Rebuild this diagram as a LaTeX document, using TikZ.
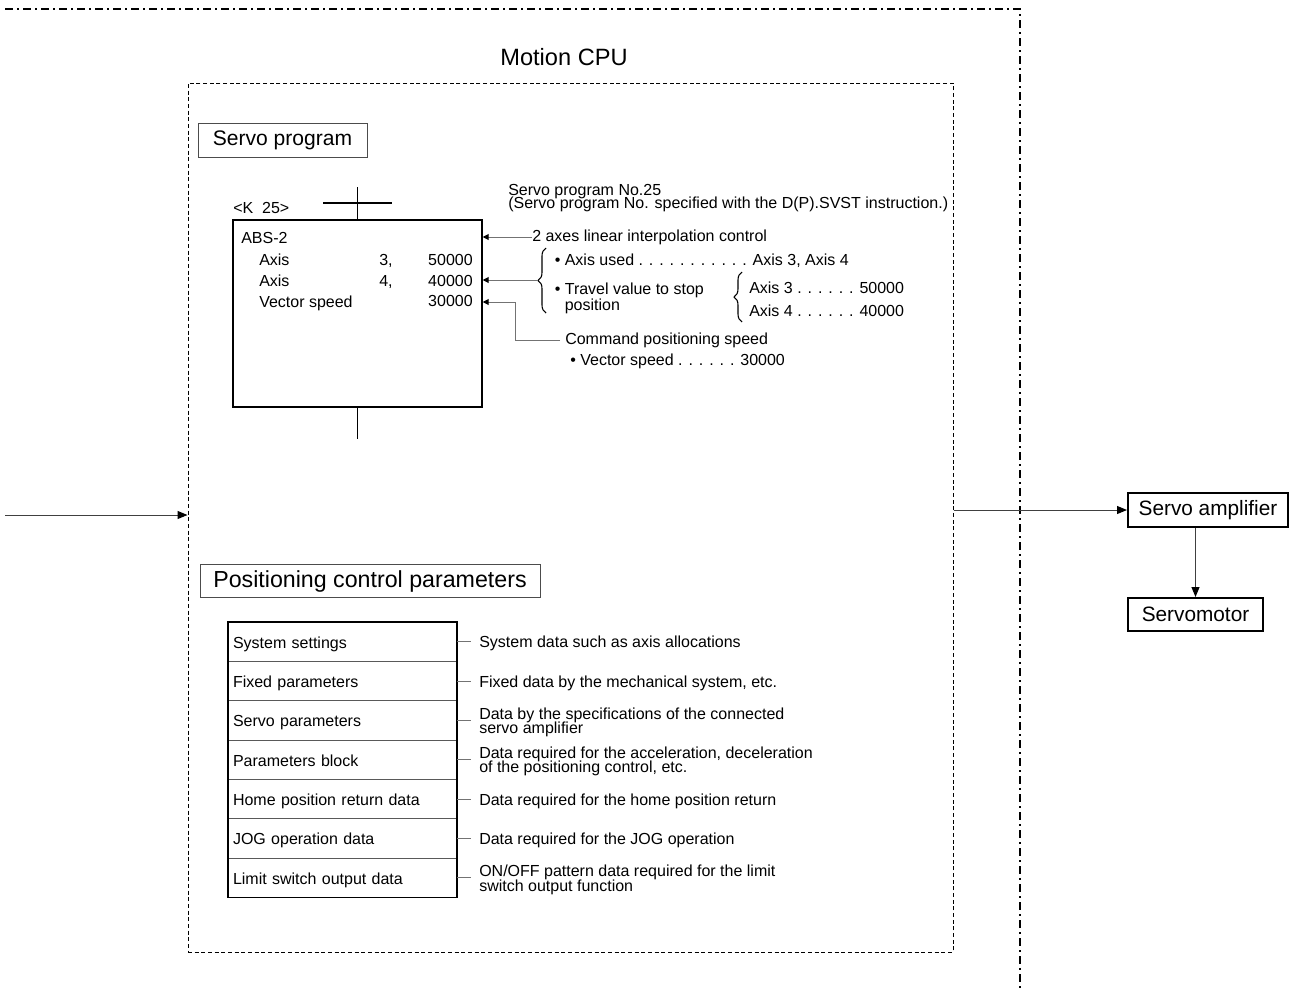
\documentclass[tikz,border=0pt]{standalone}
\usepackage{fontspec}
\setmainfont{Liberation Sans}
\usetikzlibrary{arrows.meta,decorations.pathreplacing}
\newcommand\tightlines{\lineskiplimit=-20pt\relax}
\newcommand\rowstrut{\rule[-2.5pt]{0pt}{14.5pt}}
\begin{document}
\begin{tikzpicture}[x=0.75pt,y=-0.75pt,
  txt/.style={font={\fontsize{12}{10.5}\selectfont\tightlines}, inner sep=0pt, align=left},
  one/.style={txt, text height=8.6pt, text depth=2.5pt},
  gline/.style={draw=black!55, line width=0.75pt},
  garr/.style={gline, -{Triangle[length=4.5pt,width=4.5pt,color=black]}},
  barr/.style={draw=black!75, line width=0.75pt, -{Triangle[length=7.5pt,width=6pt,color=black]}},
  rowbox/.style={draw=black!65, line width=0.75pt, minimum width=171.75pt, minimum height=29.5pt,
    text width=164.25pt, inner xsep=3.75pt, inner ysep=0pt,
    outer sep=0pt, align=left, font=\fontsize{12}{12}\selectfont, anchor=north west,
    execute at begin node=\rowstrut},
  desc/.style={txt, anchor=west, inner xsep=6pt, inner ysep=0pt},
  sbox/.style={draw=black, line width=1.5pt, inner sep=0pt, font=\fontsize{15.6}{18}\selectfont},
  brc/.style={line width=0.8pt, decorate, decoration={brace, amplitude=6pt}},
]
\fill[white] (0,0) rectangle (1293,989);
\useasboundingbox (0,0) rectangle (1293,989);

% outer dash-dot boundary
\draw[line width=1.7pt, dash pattern=on 6pt off 3pt on 1.5pt off 3pt] (5,9) -- (1020,9) -- (1020,989);

% Motion CPU
\node[font=\fontsize{17.7}{20}\selectfont, inner sep=0pt] (mcpu) at (564,57) {Motion CPU};
\node[draw, dash pattern=on 3pt off 2pt, line width=0.75pt, minimum width=573.75pt,
  minimum height=651.75pt, inner sep=0pt] (cpu) at (570.5,517.5) {};

% Servo program title
\node[draw=black!70, line width=0.75pt, minimum width=126.75pt, minimum height=25.5pt,
  inner sep=0pt, font=\fontsize{15.8}{18}\selectfont] (sptitle) at (282.5,140) {Servo program};

% servo program block
\node[draw, line width=1.1pt, minimum width=186.75pt, minimum height=140.25pt, inner sep=0pt] (blk) at (357.5,313.5) {};
\coordinate (ctop) at (357.5,187);
\coordinate (cbot) at (357.5,439);
\coordinate (hl) at (323,203);
\coordinate (hr) at (392,203);
\draw[line width=1.1pt] (ctop) -- (blk.north);
\draw[line width=1.1pt] (hl) -- (hr);
\draw[line width=1.1pt] (blk.south) -- (cbot);
\node[one, anchor=west] (k25) at (233,209) {<K\ \ 25>};

\node[one, anchor=west] (abs) at (241,239) {ABS-2};
\node[one, anchor=west] (ax1) at (259,261) {Axis};
\node[one, anchor=west] (n1) at (379,261) {3,};
\node[one, anchor=east] (v1) at (473,261) {50000};
\node[one, anchor=west] (ax2) at (259,282) {Axis};
\node[one, anchor=west] (n2) at (379,282) {4,};
\node[one, anchor=east] (v2) at (473,282) {40000};
\node[one, anchor=west] (vs) at (259,303) {Vector speed};
\node[one, anchor=east] (v3) at (473,302) {30000};

% explanations
\node[txt, anchor=west, font={\fontsize{12}{9.8}\selectfont\tightlines}] (spno) at (508,198)
  {Servo program No.25\\(Servo program No. specified with the D(P).SVST instruction.)};
\node[one, anchor=west] (t1) at (532,237) {2 axes linear interpolation control};
\draw[garr] (t1.west) -- (t1.west -| blk.east);

\draw[brc] (546,313) -- (546,248);
\coordinate (b1) at (538,280);
\draw[garr] (b1) -- (b1 -| blk.east);
\node[one, anchor=west] (au) at (554.5,261) {• Axis used . . . . . . . . . . . Axis 3, Axis 4};
\node[txt, anchor=west, font={\fontsize{12}{11.8}\selectfont\tightlines}] (tv) at (554.5,298.5)
  {• Travel value to stop\\\phantom{•\ }position};

\draw[brc] (742,322) -- (742,272);
\node[txt, anchor=west, font=\fontsize{12}{17.5}\selectfont] (ax34) at (749,299.5)
  {Axis 3 . . . . . . 50000\\Axis 4 . . . . . . 40000};

\node[one, anchor=west] (cps) at (565,340) {Command positioning speed};
\draw[garr, shorten <=3.75pt] (cps.west) -- ++(-50,0) |- (v3 -| blk.east);
\node[one, anchor=west] (vsp) at (570,361) {• Vector speed . . . . . . 30000};

% external arrows and boxes
\coordinate (inL) at (5,515);
\draw[barr] (inL) -- (inL -| cpu.west);
\node[sbox, minimum width=120pt, minimum height=25.5pt] (sa) at (1208,510) {Servo amplifier};
\node[sbox, minimum width=101.25pt, minimum height=24.75pt] (sm) at (1195.5,614.5) {Servomotor};
\draw[barr] (sa.west -| cpu.east) -- (sa.west);
\draw[barr] (sm.north |- sa.south) -- (sm.north);

% positioning control parameters
\node[draw=black!70, line width=0.75pt, minimum width=255pt, minimum height=24.75pt,
  inner sep=0pt, font=\fontsize{17.4}{20}\selectfont] (pctitle) at (370,581) {Positioning control parameters};

\node[rowbox] (r1) at (228,622) {System settings};
\node[rowbox] (r2) at (r1.south west) {Fixed parameters};
\node[rowbox] (r3) at (r2.south west) {Servo parameters};
\node[rowbox] (r4) at (r3.south west) {Parameters block};
\node[rowbox] (r5) at (r4.south west) {Home position return data};
\node[rowbox] (r6) at (r5.south west) {JOG operation data};
\node[rowbox] (r7) at (r6.south west) {Limit switch output data};
\draw[line width=1pt] (r1.north west) rectangle (r7.south east);

\path (r1.east) ++(14,2) node[desc] (d1) {System data such as axis allocations};
\path (r2.east) ++(14,2) node[desc] (d2) {Fixed data by the mechanical system, etc.};
\path (r3.east) ++(14,2) node[desc] (d3) {Data by the specifications of the connected\\servo amplifier};
\path (r4.east) ++(14,2) node[desc] (d4) {Data required for the acceleration, deceleration\\of the positioning control, etc.};
\path (r5.east) ++(14,2) node[desc] (d5) {Data required for the home position return};
\path (r6.east) ++(14,2) node[desc] (d6) {Data required for the JOG operation};
\path (r7.east) ++(14,2) node[desc, font={\fontsize{12}{11}\selectfont\tightlines}] (d7) {ON/OFF pattern data required for the limit\\switch output function};
\foreach \i in {1,...,7} {
  \draw[gline] (r\i.east) -- (r\i.east -| d\i.west);
}
\end{tikzpicture}
\end{document}
